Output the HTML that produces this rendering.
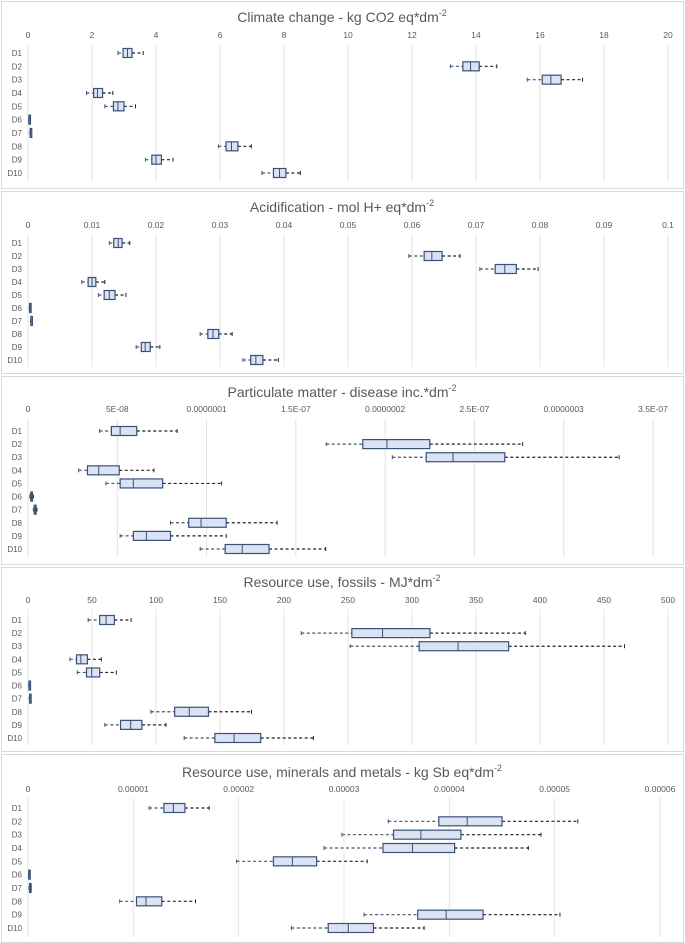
<!DOCTYPE html>
<html><head><meta charset="utf-8"><style>
html,body{margin:0;padding:0;background:#fff;}
svg{display:block;font-family:"Liberation Sans",sans-serif;}
</style></head><body>
<svg id="chart" width="685" height="943" viewBox="0 0 685 943"></svg>
<script>
const categories=["D1","D2","D3","D4","D5","D6","D7","D8","D9","D10"];
// Climate change
const ccMin=[2.81,13.2,15.6,1.83,2.4,0.02,0.06,5.95,3.67,7.31];
const ccQ1=[2.97,13.59,16.07,2.05,2.67,0.03,0.07,6.19,3.87,7.67];
const ccMed=[3.11,13.83,16.34,2.17,2.81,0.04,0.08,6.36,4.0,7.86];
const ccQ3=[3.25,14.1,16.66,2.33,3.0,0.05,0.09,6.56,4.17,8.06];
const ccMax=[3.6,14.65,17.33,2.65,3.36,0.06,0.1,6.98,4.53,8.51];
const ccTicks=["0","2","4","6","8","10","12","14","16","18","20"];
// Acidification
const acMin=[0.0127,0.0595,0.0706,0.0084,0.011,0.0002,0.0004,0.0269,0.0169,0.0336];
const acQ1=[0.0134,0.0619,0.073,0.0094,0.0119,0.00025,0.00045,0.0281,0.0177,0.0348];
const acMed=[0.0141,0.0631,0.0745,0.01,0.0127,0.0003,0.0005,0.0289,0.0183,0.0356];
const acQ3=[0.0147,0.0647,0.0763,0.0106,0.0136,0.00035,0.00055,0.0298,0.0191,0.0367];
const acMax=[0.0159,0.0675,0.0797,0.012,0.0153,0.0004,0.0006,0.0319,0.0206,0.0391];
const acTicks=["0","0.01","0.02","0.03","0.04","0.05","0.06","0.07","0.08","0.09","0.1"];
// Particulate matter (values in 1E-8)
const pmMin=[4.01,16.7,20.4,2.84,4.36,0.1,0.3,7.98,5.16,9.64];
const pmQ1=[4.67,18.75,22.3,3.33,5.16,0.15,0.35,9.0,5.9,11.04];
const pmMed=[5.16,20.1,23.8,3.96,5.9,0.2,0.4,9.69,6.63,12.0];
const pmQ3=[6.09,22.5,26.7,5.11,7.54,0.25,0.45,11.1,7.98,13.5];
const pmMax=[8.35,27.7,33.1,7.05,10.84,0.3,0.5,13.95,11.1,16.67];
const pmTicks=["0","5E-08","0.0000001","1.5E-07","0.0000002","2.5E-07","0.0000003","3.5E-07"];
// Fossils
const fsMin=[47,213.5,251.7,32.7,38.5,0.5,1.0,96,60,122];
const fsQ1=[56,253,305.6,37.9,45.7,0.8,1.3,114.6,72.3,146];
const fsMed=[61,277,336,41.3,49.8,1.0,1.5,126,80.2,161];
const fsQ3=[67.5,314,375.5,46.4,56,1.2,1.7,141,89,181.8];
const fsMax=[80.5,388.5,466,57.3,69,1.5,2.0,174.6,107.8,223];
const fsTicks=["0","50","100","150","200","250","300","350","400","450","500"];
// Minerals and metals (values in 1E-6)
const mmMin=[11.5,34.2,29.8,28.1,19.8,0.05,0.1,8.7,31.9,25.0];
const mmQ1=[12.9,39.0,34.7,33.7,23.3,0.07,0.15,10.3,37.0,28.5];
const mmMed=[13.8,41.7,37.3,36.5,25.1,0.1,0.2,11.2,39.7,30.4];
const mmQ3=[14.9,45.0,41.1,40.5,27.4,0.13,0.25,12.7,43.2,32.8];
const mmMax=[17.2,52.2,48.7,47.5,32.2,0.15,0.3,15.9,50.5,37.6];
const mmTicks=["0","0.00001","0.00002","0.00003","0.00004","0.00005","0.00006"];

const NS="http://www.w3.org/2000/svg";
const svg=document.getElementById('chart');
function mk(tag,attrs,parent){const e=document.createElementNS(NS,tag);for(const k in attrs)e.setAttribute(k,attrs[k]);(parent||svg).appendChild(e);return e;}

const panels=[
 {key:'climate',title:'Climate change - kg CO2 eq*dm',top:1,bot:188,titleY:22,tickY:38,gTop:45,gBot:182,row0:53,rowN:173,max:20,xEnd:668,ticks:ccTicks,mins:ccMin,q1:ccQ1,med:ccMed,q3:ccQ3,maxs:ccMax},
 {key:'acidification',title:'Acidification - mol H+ eq*dm',top:191,bot:373,titleY:212,tickY:228,gTop:234,gBot:367,row0:243,rowN:360,max:0.1,xEnd:668,ticks:acTicks,mins:acMin,q1:acQ1,med:acMed,q3:acQ3,maxs:acMax},
 {key:'particulate',title:'Particulate matter - disease inc.*dm',top:376,bot:564,titleY:397,tickY:412,gTop:419,gBot:557,row0:431,rowN:549,max:35,xEnd:653,ticks:pmTicks,mins:pmMin,q1:pmQ1,med:pmMed,q3:pmQ3,maxs:pmMax},
 {key:'fossils',title:'Resource use, fossils - MJ*dm',top:567,bot:751,titleY:587,tickY:603,gTop:609,gBot:745,row0:620,rowN:738,max:500,xEnd:668,ticks:fsTicks,mins:fsMin,q1:fsQ1,med:fsMed,q3:fsQ3,maxs:fsMax},
 {key:'minerals',title:'Resource use, minerals and metals - kg Sb eq*dm',top:754,bot:942,titleY:777,tickY:792,gTop:798,gBot:937,row0:808,rowN:928,max:60,xEnd:660,ticks:mmTicks,mins:mmMin,q1:mmQ1,med:mmMed,q3:mmQ3,maxs:mmMax}
];

panels.forEach(p=>{
  const g=mk('g',{});
  
  
  const frame=mk('rect',{x:1.5,y:p.top+0.5,width:682,height:p.bot-p.top,fill:'#fff',stroke:'#d9d9d9','stroke-width':1},g);
  
  
  const x0=28;
  const sx=v=>x0+(v/p.max)*(p.xEnd-x0);
  const n=p.ticks.length-1;
  const t=mk('text',{x:342,y:p.titleY,'text-anchor':'middle','font-size':14,fill:'#595959'},g);
  
  
  t.textContent=p.title;
  const sup=mk('tspan',{'font-size':9,dy:-6},t);sup.textContent='-2';
  p.ticks.forEach((lab,i)=>{
    const x=x0+i*(p.xEnd-x0)/n;
    const gl=mk('line',{x1:x,x2:x,y1:p.gTop,y2:p.gBot,stroke:'#e3e3e3','stroke-width':1},g);
    
    
    const tl=mk('text',{x:x,y:p.tickY,'text-anchor':'middle','font-size':8.5,fill:'#595959'},g);
    
    
    tl.textContent=lab;
  });
  const step=(p.rowN-p.row0)/9;
  categories.forEach((c,i)=>{
    const y=p.row0+i*step;
    const cl=mk('text',{x:22,y:y+3,'text-anchor':'end','font-size':8,fill:'#595959'},g);
    
    
    cl.textContent=c;
    const a=sx(p.mins[i]),b=sx(p.q1[i]),m=sx(p.med[i]),d=sx(p.q3[i]),e=sx(p.maxs[i]);
    const w1=mk('line',{x1:a,x2:b,y1:y,y2:y,stroke:'#44546a','stroke-width':1.2,'stroke-dasharray':'3,2.5'},g);
    
    
    const w2=mk('line',{x1:d,x2:e,y1:y,y2:y,stroke:'#222','stroke-width':1.2,'stroke-dasharray':'3,2.5'},g);
    
    
    const c1=mk('line',{x1:a,x2:a,y1:y-2,y2:y+2,stroke:'#44546a','stroke-width':1},g);
    
    
    const c2=mk('line',{x1:e,x2:e,y1:y-2,y2:y+2,stroke:'#222','stroke-width':1},g);
    
    
    const bx=mk('rect',{x:b,y:y-4.5,width:Math.max(d-b,1.5),height:9,fill:'#dae3f3',stroke:'#3b5078','stroke-width':1.2},g);
    
    
    const md=mk('line',{x1:m,x2:m,y1:y-4.5,y2:y+4.5,stroke:'#3b5078','stroke-width':1},g);
    
    
  });
});
</script>
</body></html>
